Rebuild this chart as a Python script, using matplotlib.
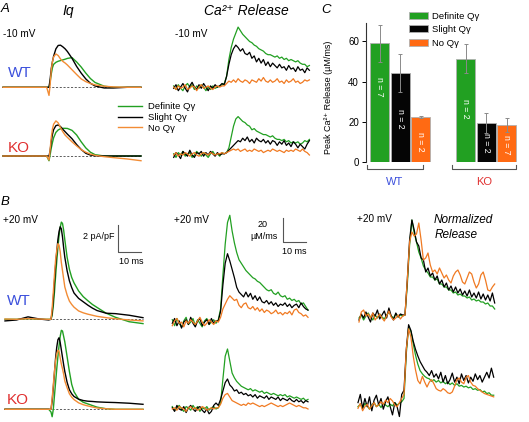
import numpy as np
import matplotlib
matplotlib.use("Agg")
import matplotlib.pyplot as plt
from matplotlib.transforms import blended_transform_factory

plt.rcParams["font.family"] = ["Liberation Sans", "DejaVu Sans"]

W, H = 529, 422

GREEN = "#22a022"
BLACK = "#000000"
ORANGE_IQ = "#f28c35"
ORANGE_REL = "#f07a22"
BAR_ORANGE = "#ff6a13"
WT_BLUE = "#3c50dc"
KO_RED = "#e03030"

# ---------------- charge movement (Iq), pA/pF vs ms ----------------
t_iq_a = [-20, -10, -1, 0, 0.5, 1, 1.5, 2, 3, 4, 5, 6, 7, 8, 10, 12, 14, 16, 18, 20, 24, 28, 34, 40]
iq_a_wt_green = [0, 0, 0, 0, 0.4, 1.0, 1.45, 1.7, 1.85, 1.93, 1.98, 2.03, 2.08, 2.14, 2.2, 1.88, 1.5, 1.05, 0.65, 0.36, 0.08, 0, 0, 0]
iq_a_wt_black = [0, 0, 0, 0, 0.6, 1.4, 1.9, 2.3, 2.85, 3.1, 3.12, 3.0, 2.85, 2.65, 2.15, 1.55, 1.05, 0.62, 0.3, 0.1, -0.05, -0.05, 0, 0]
iq_a_wt_orange = [0, 0, 0, -0.6, 0.2, 1.3, 1.9, 2.25, 2.47, 2.35, 2.1, 1.92, 1.8, 1.65, 1.3, 0.95, 0.62, 0.42, 0.28, 0.18, 0.08, 0.03, 0, 0]
iq_a_ko_green = [0, 0, 0, -0.35, 0.1, 0.6, 1.0, 1.35, 1.75, 1.93, 2.02, 2.05, 2.05, 2.04, 1.9, 1.56, 1.05, 0.6, 0.28, 0.1, 0, 0, 0, 0]
iq_a_ko_black = [0, 0, 0, 0, 0.4, 1.1, 1.6, 1.95, 2.25, 2.3, 2.18, 1.98, 1.8, 1.62, 1.28, 0.85, 0.48, 0.2, 0.07, 0.02, 0, 0, 0, 0]
iq_a_ko_orange = [0, 0, 0, -0.3, 0.5, 1.4, 2.0, 2.35, 2.6, 2.45, 2.1, 1.8, 1.55, 1.38, 1.05, 0.75, 0.47, 0.28, 0.14, 0.05, -0.05, -0.12, -0.22, -0.35]

t_iq_b = [-20, -15, -10, -5, -1, 0, 0.5, 1, 1.5, 2, 2.5, 3, 3.5, 4, 4.5, 5, 5.5, 6, 7, 8, 9, 10, 12, 14, 16, 18, 20, 24, 28, 34, 40]
iq_b_wt_green = [0, 0, 0.05, 0, 0, 0, 0.3, 1.0, 2.0, 3.2, 4.3, 5.3, 6.2, 6.8, 7.2, 7.1, 6.6, 5.9, 4.6, 3.7, 3.1, 2.7, 2.1, 1.68, 1.38, 1.1, 0.88, 0.45, 0.15, -0.18, -0.32]
iq_b_wt_black = [-0.12, -0.05, 0.18, 0.02, -0.05, 0, 0.5, 1.5, 2.8, 4.0, 5.0, 5.9, 6.5, 6.85, 6.7, 6.1, 5.3, 4.6, 3.6, 2.85, 2.35, 1.95, 1.55, 1.3, 1.05, 0.83, 0.65, 0.45, 0.42, 0.3, 0.12]
iq_b_wt_orange = [0.02, 0, 0.05, 0.02, 0, 0, 0.8, 2.0, 3.3, 4.4, 5.1, 5.6, 5.5, 5.0, 4.2, 3.6, 3.0, 2.4, 1.8, 1.35, 1.1, 0.9, 0.62, 0.48, 0.38, 0.3, 0.22, 0.12, 0.04, -0.05, -0.12]
iq_b_ko_green = [0, 0, 0, 0, 0, -0.2, -0.55, 0.0, 1.0, 2.0, 3.0, 3.9, 4.7, 5.4, 5.85, 5.8, 5.4, 5.0, 3.9, 2.8, 1.85, 1.3, 0.75, 0.52, 0.4, 0.28, 0.16, 0.04, 0, 0, 0]
iq_b_ko_black = [0, 0, 0, 0, 0, 0, 0.6, 1.6, 2.7, 3.8, 4.6, 5.15, 5.3, 4.95, 4.4, 3.85, 3.3, 2.8, 2.0, 1.45, 1.15, 0.95, 0.75, 0.65, 0.6, 0.58, 0.55, 0.52, 0.5, 0.45, 0.37]
iq_b_ko_orange = [0, 0, 0, 0, 0, 0, 0.8, 1.8, 2.8, 3.6, 4.1, 4.38, 4.3, 3.8, 3.35, 3.0, 2.6, 2.1, 1.6, 1.15, 0.9, 0.72, 0.48, 0.34, 0.25, 0.17, 0.1, 0.04, 0, 0, 0]

# ---------------- Ca release flux, uM/ms vs ms ----------------
t_rel_a = list(range(-22, 38))
rel_a_wt_green = [2, -1, 3, 0, -2, 2, 4, 1, 3, -1, 2, 0, 3, 1, -2, 1, -1, 2, 0, 1, 2, 3,
                  4, 10, 24, 34, 41, 46, 51, 48, 45, 43, 41, 39, 38, 36, 35, 33, 32, 31, 29, 28,
                  28, 27, 26, 27, 25, 26, 24, 25, 23, 24, 23, 22, 23, 21, 20, 20, 18, 19]
rel_a_wt_black = [0, 3, -2, 1, 4, 0, -3, 2, 5, 1, -1, 3, 0, 4, 1, -2, 2, 0, 3, 1, 2, 4,
                  3, 10, 20, 28, 33, 36, 34, 31, 33, 29, 28, 30, 25, 27, 22, 25, 21, 24, 19, 22,
                  18, 21, 19, 17, 20, 17, 18, 15, 19, 16, 17, 14, 18, 15, 16, 13, 17, 15]
rel_a_wt_orange = [1, -1, 2, 0, 1, 3, -1, 0, 2, 1, -2, 1, 3, 0, 1, 2, 0, -1, 1, 2, 1, 2,
                   2, 4, 6, 5, 7, 5, 8, 6, 5, 7, 6, 4, 7, 6, 5, 8, 6, 9, 6, 5,
                   7, 5, 6, 8, 5, 6, 4, 7, 5, 6, 8, 5, 6, 4, 5, 7, 6, 7]
rel_a_ko_green = [1, -2, 2, 0, 3, -1, 1, 2, -2, 0, 3, 1, -1, 2, 0, -2, 1, 3, 0, 1, -1, 2,
                  1, 2, 6, 15, 24, 30, 32, 30, 28, 27, 25, 24, 21, 22, 20, 19, 18, 17, 17, 16,
                  15, 16, 14, 13, 13, 12, 13, 11, 12, 10, 11, 10, 11, 9, 10, 12, 11, 13]
rel_a_ko_black = [-2, 2, 0, -3, 3, 1, -1, 4, 0, -2, 2, 1, 3, -1, 2, 0, 3, 1, -1, 2, 0, 1,
                  1, 2, 4, 6, 8, 10, 12, 11, 14, 12, 15, 11, 13, 10, 14, 12, 11, 13, 10, 12,
                  9, 12, 11, 8, 11, 9, 12, 8, 10, 7, 11, 9, 6, 9, 7, 5, 9, 12]
rel_a_ko_orange = [0, 2, -1, 1, 0, 2, 1, -1, 1, 2, 0, -1, 1, 2, 1, 0, 2, 1, 0, 1, 1, 2,
                   1, 2, 3, 4, 5, 4, 5, 3, 4, 5, 3, 4, 3, 5, 4, 3, 4, 2, 3, 4,
                   3, 5, 4, 3, 4, 3, 2, 4, 3, 4, 3, 5, 4, 3, 5, 3, 2, 0]

t_rel_b = list(range(-20, 40))
rel_b_wt_green = [3, -2, 4, 0, -3, 2, 5, -1, 1, 4, -2, 3, 0, -3, 2, 4, -1, 1, 3, 0,
                  3, 12, 40, 66, 84, 90, 77, 67, 59, 53, 50, 47, 44, 42, 40, 38, 37, 35, 34, 32,
                  30, 28, 27, 28, 25, 24, 26, 23, 22, 23, 20, 21, 19, 20, 18, 19, 16, 17, 14, 11]
rel_b_wt_black = [0, 4, -2, 2, -4, 1, 3, -1, 5, 0, -3, 2, 4, -2, 1, 3, -1, 4, 0, 2,
                  2, 10, 32, 50, 58, 52, 45, 38, 30, 26, 24, 22, 26, 22, 25, 20, 23, 19, 22, 18,
                  17, 19, 16, 18, 15, 17, 14, 16, 15, 17, 14, 16, 13, 15, 16, 13, 17, 14, 12, 11]
rel_b_wt_orange = [-2, 2, 4, 0, 1, -3, 2, 0, 3, 1, -1, 2, 5, 1, -2, 0, 3, 1, -1, 2,
                   1, 5, 12, 16, 20, 23, 21, 19, 20, 15, 13, 16, 17, 13, 12, 14, 11, 13, 10, 12,
                   9, 11, 10, 8, 9, 11, 8, 9, 7, 9, 8, 10, 7, 11, 12, 9, 8, 6, 7, 5]
rel_b_ko_green = [2, -1, 1, 3, 0, -2, 2, 1, -1, 3, 0, 2, -2, 1, 0, 2, -1, 1, 2, 0,
                  1, 5, 25, 44, 50, 40, 30, 26, 23, 21, 19, 18, 17, 16, 17, 15, 16, 15, 14, 15,
                  13, 14, 13, 12, 13, 12, 11, 12, 11, 12, 10, 11, 10, 9, 10, 9, 8, 9, 7, 8]
rel_b_ko_black = [1, -2, 3, 0, -1, 2, -3, 1, 3, 0, -2, 1, 2, -1, -3, 0, -4, -2, 3, 5,
                  3, 8, 15, 22, 25, 20, 18, 15, 16, 13, 14, 12, 13, 11, 12, 10, 12, 9, 11, 10,
                  9, 11, 8, 10, 9, 8, 10, 7, 9, 8, 7, 9, 7, 6, 8, 6, 7, 5, 7, 6]
rel_b_ko_orange = [0, 1, -1, 2, 1, 0, -2, 1, 2, 0, 1, -1, 0, 2, 1, -1, 0, 1, 0, 1,
                   1, 4, 9, 12, 13, 10, 7, 6, 5, 4, 3, 4, 3, 5, 4, 5, 4, 3, 2, 3,
                   2, 3, 4, 5, 4, 3, 2, 3, 2, 3, 4, 5, 4, 3, 2, 3, 2, 1, 1, 0]

# ---------------- normalized release (peak = 1) ----------------
t_norm = list(range(-20, 40))
norm_wt_green = [0.02, 0.05, 0.0, 0.04, 0.07, 0.03, 0.0, 0.05, 0.02, 0.06, 0.03, 0.01, 0.05, 0.08, 0.04, 0.02, 0.06, 0.03, 0.05, 0.04,
                 0.05, 0.35, 0.75, 1.0, 0.87, 0.78, 0.68, 0.62, 0.54, 0.5, 0.47, 0.43, 0.43, 0.4, 0.41, 0.36, 0.36, 0.33, 0.33, 0.3,
                 0.3, 0.27, 0.28, 0.25, 0.26, 0.24, 0.24, 0.22, 0.23, 0.2, 0.21, 0.19, 0.2, 0.18, 0.18, 0.16, 0.17, 0.14, 0.14, 0.11]
norm_wt_black = [0.0, 0.06, 0.02, 0.08, 0.03, -0.02, 0.07, 0.04, 0.1, 0.01, 0.05, 0.09, 0.02, 0.12, 0.04, 0.0, 0.07, 0.03, 0.06, 0.05,
                 0.05, 0.4, 0.8, 1.0, 0.9, 0.78, 0.74, 0.62, 0.6, 0.48, 0.52, 0.44, 0.47, 0.4, 0.44, 0.36, 0.4, 0.33, 0.37, 0.3,
                 0.34, 0.28, 0.33, 0.27, 0.31, 0.25, 0.29, 0.24, 0.3, 0.23, 0.27, 0.22, 0.28, 0.21, 0.26, 0.2, 0.25, 0.19, 0.27, 0.17]
norm_wt_orange = [-0.02, 0.08, 0.1, 0.04, 0.06, 0.02, 0.07, 0.0, 0.03, 0.06, 0.02, -0.01, 0.04, 0.09, 0.03, 0.0, 0.02, 0.05, 0.01, 0.04,
                  0.05, 0.4, 0.78, 0.88, 0.84, 0.86, 0.97, 0.8, 0.6, 0.62, 0.67, 0.55, 0.48, 0.5, 0.46, 0.52, 0.47, 0.42, 0.45, 0.4,
                  0.37, 0.44, 0.48, 0.5, 0.45, 0.38, 0.36, 0.42, 0.48, 0.46, 0.38, 0.32, 0.36, 0.45, 0.48, 0.4, 0.3, 0.29, 0.33, 0.36]
norm_ko_green = [0.0, 0.03, -0.02, 0.04, 0.01, -0.03, 0.02, 0.05, 0.0, 0.03, -0.01, 0.04, 0.02, 0.0, 0.03, 0.01, 0.05, 0.02, 0.04, 0.06,
                 0.1, 0.65, 0.97, 0.92, 0.77, 0.63, 0.52, 0.44, 0.4, 0.37, 0.35, 0.34, 0.31, 0.33, 0.3, 0.32, 0.29, 0.31, 0.28, 0.3,
                 0.27, 0.29, 0.26, 0.28, 0.25, 0.26, 0.24, 0.25, 0.23, 0.24, 0.21, 0.22, 0.2, 0.21, 0.18, 0.19, 0.16, 0.17, 0.14, 0.14]
norm_ko_black = [0.05, 0.15, -0.02, 0.1, 0.0, 0.12, -0.05, 0.08, 0.14, 0.02, 0.1, -0.03, 0.06, 0.12, 0.0, -0.1, 0.05, 0.0, -0.12, 0.15,
                 0.2, 0.7, 1.0, 0.93, 0.8, 0.7, 0.62, 0.55, 0.5, 0.45, 0.42, 0.38, 0.44, 0.36, 0.4, 0.34, 0.42, 0.3, 0.38, 0.28,
                 0.33, 0.41, 0.3, 0.36, 0.28, 0.4, 0.32, 0.38, 0.29, 0.36, 0.31, 0.4, 0.33, 0.38, 0.3, 0.36, 0.42, 0.35, 0.47, 0.36]
norm_ko_orange = [-0.02, 0.04, -0.05, 0.0, 0.03, -0.03, 0.01, 0.05, 0.0, 0.02, 0.06, 0.03, 0.08, 0.05, 0.1, 0.07, 0.02, 0.0, 0.05, 0.1,
                  0.15, 0.7, 0.95, 0.85, 0.62, 0.45, 0.32, 0.28, 0.37, 0.3, 0.24, 0.3, 0.33, 0.28, 0.22, 0.2, 0.19, 0.22, 0.2, 0.17,
                  0.16, 0.18, 0.25, 0.33, 0.35, 0.3, 0.28, 0.36, 0.38, 0.3, 0.26, 0.25, 0.22, 0.2, 0.18, 0.16, 0.15, 0.14, 0.13, 0.12]

# ---------------- panel C: peak release ----------------
groups = ["WT", "KO"]
classes = ["Definite Q\u03b3", "Slight Q\u03b3", "No Q\u03b3"]
peak_mean = {"WT": [59, 44.5, 22.3], "KO": [51.5, 19.6, 18.5]}
peak_err = {"WT": [9, 9.5, 0.5], "KO": [7.4, 5, 3.6]}
n_cells = {"WT": [7, 2, 2], "KO": [2, 2, 7]}
n_label_y = {"WT": [37.4, 21.4, 10.2], "KO": [26.7, 9.7, 8.6]}

fig = plt.figure(figsize=(W / 100, H / 100), dpi=100)


def px_text(x, y, s, **kw):
    fig.text(x / W, 1 - y / H, s, **kw)


def trace_axes(x0, y0, sx, sy):
    # axes spanning the figure; t=0 sits at pixel x0, value 0 at pixel y0
    ax = fig.add_axes([0, 0, 1, 1])
    ax.set_xlim(-x0 / sx, (W - x0) / sx)
    ax.set_ylim((y0 - H) / sy, y0 / sy)
    ax.axis("off")
    return ax


def draw_traces(ax, t, g, k, o, orange, lw=1.0, dashed=None):
    if dashed is not None:
        ax.plot(dashed, [0, 0], color="#444444", lw=0.6, ls=(0, (2.5, 2)))
    ax.plot(t, g, color=GREEN, lw=lw)
    ax.plot(t, k, color=BLACK, lw=lw)
    ax.plot(t, o, color=orange, lw=lw)


SX = 2.3        # px per ms
SY_IQ = 13.5    # px per pA/pF
SY_REL = 1.2    # px per uM/ms

ax = trace_axes(49, 87.3, SX, SY_IQ)
draw_traces(ax, t_iq_a, iq_a_wt_green, iq_a_wt_black, iq_a_wt_orange, ORANGE_IQ, dashed=[-20, 40])
ax = trace_axes(49, 156, SX, SY_IQ)
draw_traces(ax, t_iq_a, iq_a_ko_green, iq_a_ko_black, iq_a_ko_orange, ORANGE_IQ, dashed=[-20, 40])
leg_handles = ax.get_lines()[1:]
ax.legend(leg_handles, classes, loc="upper left", bbox_to_anchor=(118 / W, 1 - 102 / H),
          bbox_transform=fig.transFigure, frameon=False, fontsize=6.8, handlelength=2.55,
          handletextpad=0.6, labelspacing=0.2, borderpad=0, borderaxespad=0)

ax = trace_axes(51, 319.3, SX, SY_IQ)
draw_traces(ax, t_iq_b, iq_b_wt_green, iq_b_wt_black, iq_b_wt_orange, ORANGE_IQ, dashed=[-19, 40])
# scale bar: 2 pA/pF, 10 ms
ax.plot([29.3, 29.3, 39.3], [6.99, 4.99, 4.99], color="#555555", lw=0.8)
ax.text(27.8, 6.1, "2 pA/pF", ha="right", va="center", fontsize=6.5)
ax.text(35.0, 4.3, "10 ms", ha="center", va="center", fontsize=6.5)
ax = trace_axes(51, 409.3, SX, SY_IQ)
draw_traces(ax, t_iq_b, iq_b_ko_green, iq_b_ko_black, iq_b_ko_orange, ORANGE_IQ, dashed=[-19, 40])

ax = trace_axes(224.3, 88.3, SX, SY_REL)
draw_traces(ax, t_rel_a, rel_a_wt_green, rel_a_wt_black, rel_a_wt_orange, ORANGE_REL, lw=0.9)
ax = trace_axes(224.3, 155, SX, SY_REL)
draw_traces(ax, t_rel_a, rel_a_ko_green, rel_a_ko_black, rel_a_ko_orange, ORANGE_REL, lw=0.9)

ax = trace_axes(218.3, 323.3, SX, SY_REL)
draw_traces(ax, t_rel_b, rel_b_wt_green, rel_b_wt_black, rel_b_wt_orange, ORANGE_REL, lw=0.9)
# scale bar: 20 uM/ms, 10 ms
ax.plot([28.3, 28.3, 38.3], [87.75, 67.75, 67.75], color="#555555", lw=0.8)
ax.text(19.4, 82.0, "20", ha="center", va="center", fontsize=6.5)
ax.text(19.9, 72.5, "\u00b5M/ms", ha="center", va="center", fontsize=6.5)
ax.text(32.9, 60.0, "10 ms", ha="center", va="center", fontsize=6.5)
ax = trace_axes(218.3, 409, SX, SY_REL)
draw_traces(ax, t_rel_b, rel_b_ko_green, rel_b_ko_black, rel_b_ko_orange, ORANGE_REL, lw=0.9)

ax = trace_axes(405, 320, SX, 100)
draw_traces(ax, t_norm, norm_wt_green, norm_wt_black, norm_wt_orange, ORANGE_REL, lw=0.9)
ax = trace_axes(404, 406.7, SX, 82)
draw_traces(ax, t_norm, norm_ko_green, norm_ko_black, norm_ko_orange, ORANGE_REL, lw=0.9)

# ---------------- panel C bar chart ----------------
bx0, bx1, by0, by1 = 366, 525, 162.3, 23.3
axc = fig.add_axes([bx0 / W, 1 - by0 / H, (bx1 - bx0) / W, (by0 - by1) / H])
axc.patch.set_alpha(0)
unit = 86.0
axc.set_xlim((bx0 - 400.2) / unit, (bx1 - 400.2) / unit)
axc.set_ylim(0, 69)
bar_w = 19 / unit
offs = [-20.5 / unit, 0, 20.5 / unit]
bar_cols = [GREEN, "#050505", BAR_ORANGE]
for j, (lab, col) in enumerate(zip(classes, bar_cols)):
    xs = [gi + offs[j] for gi in range(len(groups))]
    vals = [peak_mean[g][j] for g in groups]
    errs = [peak_err[g][j] for g in groups]
    axc.bar(xs, vals, bar_w, yerr=errs, color=col, edgecolor="#b0b0b0", lw=0.6, label=lab,
            error_kw=dict(ecolor="#8a8a8a", elinewidth=0.7, capsize=1.5, capthick=0.7))
    for gi, g in enumerate(groups):
        axc.text(xs[gi], n_label_y[g][j], f"n = {n_cells[g][j]}", rotation=-90, color="white",
                 ha="center", va="center", fontsize=6.3)

for s in ["top", "right", "bottom"]:
    axc.spines[s].set_visible(False)
axc.spines["left"].set_color("#333333")
axc.spines["left"].set_linewidth(0.8)
axc.set_xticks([])
axc.set_yticks([0, 20, 40, 60])
axc.tick_params(axis="y", direction="out", length=3, width=0.7, labelsize=7, pad=2)
axc.set_ylabel("Peak Ca\u00b2\u207a Release (\u00b5M/ms)", fontsize=6.5)
axc.yaxis.set_label_coords((333 - bx0) / (bx1 - bx0), (by0 - 97) / (by0 - by1))

tr = blended_transform_factory(axc.transData, axc.transAxes)
brackets = {"WT": ((366.7 - 400.2) / unit, (422.7 - 400.2) / unit),
            "KO": ((452.3 - 400.2) / unit, (516 - 400.2) / unit)}
for g, colr in zip(groups, [WT_BLUE, KO_RED]):
    a, b = brackets[g]
    axc.plot([a, a, b, b], [-0.02, -0.045, -0.045, -0.02], transform=tr, color="#555555",
             lw=0.8, clip_on=False)
    axc.text((a + b) / 2, -0.14, g, transform=tr, ha="center", va="center", color=colr,
             fontsize=8)

axc.legend(loc="upper left", bbox_to_anchor=(409 / W, 1 - 12 / H), bbox_transform=fig.transFigure,
           frameon=False, fontsize=6.8, handlelength=2.0, handleheight=0.75, handletextpad=0.45,
           labelspacing=0.45, borderpad=0, borderaxespad=0)

# ---------------- labels ----------------
px_text(1, 11.7, "A", fontsize=9.5, style="italic", va="baseline")
px_text(1, 205, "B", fontsize=9.5, style="italic", va="baseline")
px_text(321, 13, "C", fontsize=9.5, style="italic", va="baseline")
px_text(68.5, 15, "Iq", fontsize=10, style="italic", ha="center", va="baseline")
px_text(246, 15, "Ca\u00b2\u207a Release", fontsize=10, style="italic", ha="center", va="baseline")

px_text(3, 36.7, "-10 mV", fontsize=7.2, va="baseline")
px_text(175, 37, "-10 mV", fontsize=7.2, va="baseline")
px_text(3, 222.7, "+20 mV", fontsize=7.2, va="baseline")
px_text(174, 223, "+20 mV", fontsize=7.2, va="baseline")
px_text(357, 222, "+20 mV", fontsize=7.2, va="baseline")
px_text(433.5, 223, "Normalized", fontsize=8.5, style="italic", va="baseline")
px_text(435, 238, "Release", fontsize=8.5, style="italic", va="baseline")

px_text(8, 76.7, "WT", fontsize=11, color=WT_BLUE, va="baseline")
px_text(8, 151.7, "KO", fontsize=11, color=KO_RED, va="baseline")
px_text(7, 305, "WT", fontsize=11, color=WT_BLUE, va="baseline")
px_text(7, 404, "KO", fontsize=11, color=KO_RED, va="baseline")

fig.savefig("out.png", dpi=100)
